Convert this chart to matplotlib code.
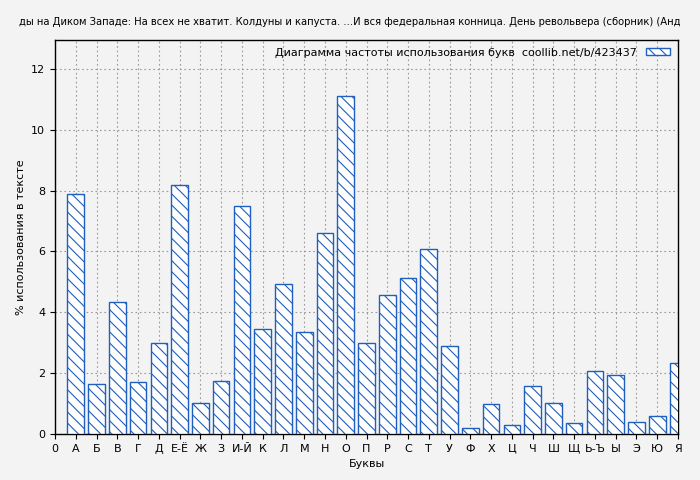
import matplotlib
matplotlib.use("Agg")
import matplotlib.pyplot as plt

letters = ["А","Б","В","Г","Д","Е-Ё","Ж","З","И-Й","К","Л","М","Н","О","П","Р","С","Т","У","Ф","Х","Ц","Ч","Ш","Щ","Ь-Ъ","Ы","Э","Ю","Я"]
values = [7.9,1.65,4.35,1.7,3.0,8.2,1.02,1.73,7.5,3.45,4.93,3.35,6.6,11.1,3.0,4.57,5.13,6.08,2.9,0.2,0.98,0.3,1.58,1.02,0.37,2.07,1.93,0.4,0.6,2.33]
title = "ды на Диком Западе: На всех не хватит. Колдуны и капуста. ...И вся федеральная конница. День револьвера (сборник) (Анд"
legend_label = "Диаграмма частоты использования букв  coollib.net/b/423437"

plt.rcParams['font.family'] = ['DejaVu Sans']
plt.rcParams['hatch.color'] = '#1f5fbf'
plt.rcParams['hatch.linewidth'] = 0.8
fig = plt.figure(figsize=(7, 4.8), dpi=100, facecolor='#f3f3f3')
ax = fig.add_axes([55/700, 46/480, 623/700, 394/480])
ax.set_facecolor('#f3f3f3')
pos = list(range(1, len(letters) + 1))
ax.bar(pos, values, width=0.8, facecolor='white', edgecolor='#1f5fbf', hatch='\\\\\\', linewidth=1, label=legend_label, zorder=3)
ax.set_xlim(0, 29)
ax.set_ylim(0, 12.95)
ax.set_xticks([0] + pos)
ax.set_xticklabels(["0"] + letters, fontsize=8)
ax.set_yticks([0, 2, 4, 6, 8, 10, 12])
ax.tick_params(labelsize=8)
ax.grid(True, linestyle=(0, (1.5, 2.5)), color='#999999', linewidth=0.8, zorder=0)
ax.set_xlabel("Буквы", fontsize=8)
ax.set_ylabel("% использования в тексте", fontsize=8)
for s in ax.spines.values():
    s.set_linewidth(1)
ax.legend(loc='upper right', fontsize=8, frameon=False, handlelength=2.2, handleheight=0.6, markerfirst=False, borderaxespad=0.3)
fig.text(0.5, 1 - 22/480, title, fontsize=7.2, ha='center', va='center')
fig.savefig("out.png", dpi=100, facecolor=fig.get_facecolor())
